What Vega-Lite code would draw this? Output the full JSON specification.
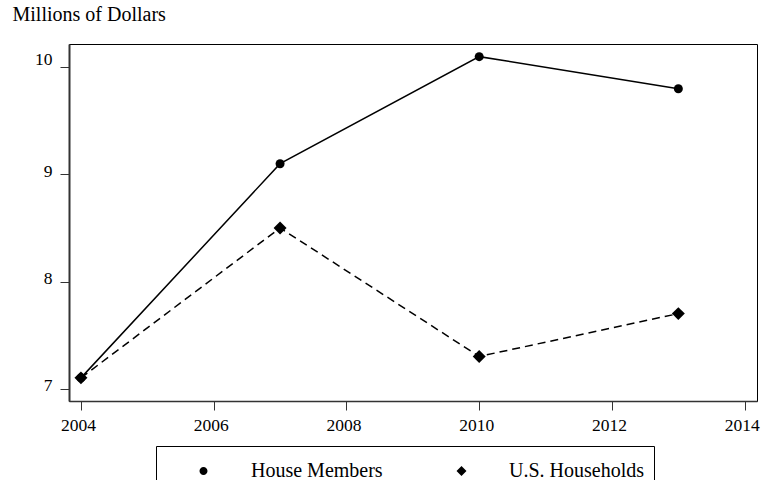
{
  "$schema": "https://vega.github.io/schema/vega-lite/v6.json",
  "width": 688,
  "height": 357,
  "autosize": {"type": "none"},
  "padding": {"left": 69, "top": 44, "right": 4, "bottom": 79},
  "background": "white",
  "config": {
    "view": {"stroke": "black", "strokeWidth": 1},
    "font": "Liberation Serif",
    "axis": {"grid": false, "labelFont": "Liberation Serif", "titleFont": "Liberation Serif", "labelColor": "black", "titleColor": "black", "tickColor": "#333", "domainColor": "#333", "labelFontSize": 17.5, "titleFontWeight": "normal"},
    "legend": {
      "labelFont": "Liberation Serif", "labelColor": "black",
      "title": null, "orient": "none", "direction": "horizontal",
      "legendX": 87, "legendY": 402,
      "strokeColor": "black", "fillColor": "white", "padding": 9,
      "symbolSize": 900, "labelFontSize": 20, "labelOffset": 54, "columnPadding": 38,
      "symbolStrokeColor": "black", "symbolFillColor": "black", "symbolStrokeWidth": 1.5, "symbolOpacity": 1
    }
  },
  "data": {
    "values": [
      {"year": 2004, "series": "House Members", "value": 7.1},
      {"year": 2007, "series": "House Members", "value": 9.1},
      {"year": 2010, "series": "House Members", "value": 10.1},
      {"year": 2013, "series": "House Members", "value": 9.8},
      {"year": 2004, "series": "U.S. Households", "value": 7.1},
      {"year": 2007, "series": "U.S. Households", "value": 8.5},
      {"year": 2010, "series": "U.S. Households", "value": 7.3},
      {"year": 2013, "series": "U.S. Households", "value": 7.7}
    ]
  },
  "encoding": {
    "x": {
      "field": "year", "type": "quantitative",
      "scale": {"domain": [2003.82, 2014.185], "nice": false, "zero": false},
      "axis": {"values": [2004, 2006, 2008, 2010, 2012, 2014], "format": "d", "title": null, "tickSize": 9, "labelPadding": 6, "domainWidth": 1.5, "labelOffset": -3}
    },
    "y": {
      "field": "value", "type": "quantitative",
      "scale": {"domain": [6.884, 10.218], "nice": false, "zero": false},
      "axis": {
        "values": [7, 8, 9, 10], "format": "d", "tickSize": 9, "labelPadding": 8, "domainWidth": 2,
        "labelOffset": {"condition": {"test": "datum.value === 10", "value": -8}, "value": -3},
        "title": "Millions of Dollars", "titleAngle": 0, "titleAlign": "left", "titleBaseline": "alphabetic",
        "titleX": -57, "titleY": -24, "titleFontSize": 20
      }
    }
  },
  "layer": [
    {
      "transform": [{"filter": "datum.series === 'House Members'"}],
      "mark": {"type": "line", "color": "black", "strokeWidth": 1.5},
      "encoding": {}
    },
    {
      "transform": [{"filter": "datum.series === 'U.S. Households'"}],
      "mark": {"type": "line", "color": "black", "strokeWidth": 1.5, "strokeDash": [8, 5]},
      "encoding": {}
    },
    {
      "transform": [{"filter": "datum.series === 'House Members'"}],
      "mark": {"type": "point", "shape": "circle", "filled": true, "color": "black", "opacity": 1, "size": 81},
      "encoding": {}
    },
    {
      "transform": [{"filter": "datum.series === 'U.S. Households'"}],
      "mark": {"type": "point", "shape": "M0 -1.44L1.44 0L0 1.44L-1.44 0Z", "filled": true, "color": "black", "opacity": 1, "size": 81},
      "encoding": {}
    },
    {
      "mark": {"type": "point", "filled": true, "color": "black", "fill": "black", "stroke": "black", "strokeWidth": 1.5, "size": 0},
      "encoding": {
        "shape": {
          "field": "series", "type": "nominal",
          "scale": {"domain": ["House Members", "U.S. Households"], "range": ["M-1 0L4 0M1.767 0A0.267 0.267 0 1 1 1.233 0A0.267 0.267 0 1 1 1.767 0Z", "M-1 0L4 0M1.5 -0.333L1.833 0L1.5 0.333L1.167 0Z"]}
        },
        "strokeDash": {
          "field": "series", "type": "nominal",
          "scale": {"domain": ["House Members", "U.S. Households"], "range": [[1, 0], [8, 5]]}
        }
      }
    }
  ]
}
